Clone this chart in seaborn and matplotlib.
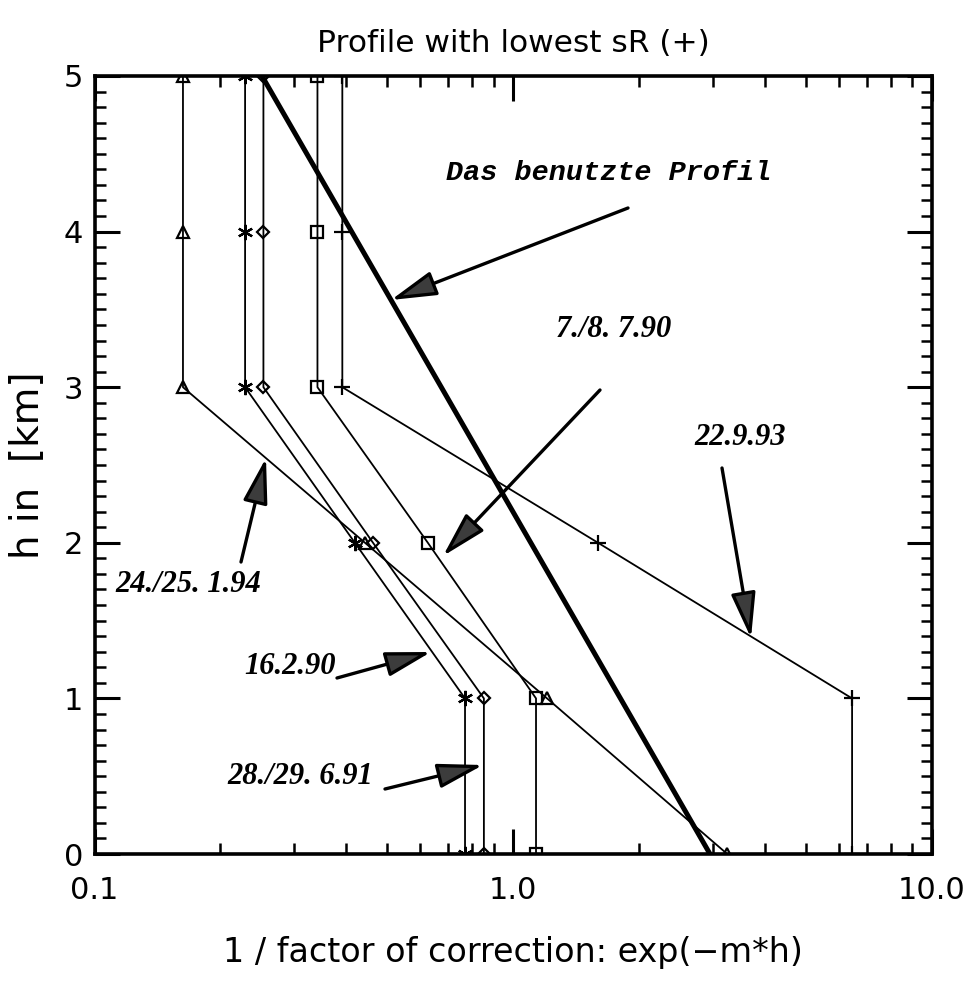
import numpy as np
import pandas as pd
import matplotlib
matplotlib.use("Agg")
import matplotlib.pyplot as plt
from matplotlib.ticker import FixedLocator, LogLocator, MultipleLocator, NullFormatter
import seaborn as sns

# Heights of the profile levels in km
heights = [0, 1, 2, 3, 4, 5]

# 1 / correction factor at each height for the individual soundings
prof_240125_194 = [3.25, 1.206, 0.443, 0.1627, 0.1627, 0.1627]   # triangles
prof_16_2_90 = [0.768, 0.768, 0.419, 0.229, 0.229, 0.229]         # asterisks
prof_2829_6_91 = [0.852, 0.852, 0.463, 0.2533, 0.2533, 0.2533]    # diamonds
prof_78_7_90 = [1.135, 1.135, 0.626, 0.341, 0.341, 0.341]         # squares
prof_22_9_93 = [6.46, 6.46, 1.597, 0.391, 0.391, 0.391]           # plus signs
# profile that is actually used (no symbols, thick line)
prof_used = [2.956, 1.806, 1.103, 0.674, 0.4115, 0.2513]

series_names = ["24./25. 1.94", "16.2.90", "28./29. 6.91", "7./8. 7.90", "22.9.93", "used"]
series_values = [prof_240125_194, prof_16_2_90, prof_2829_6_91, prof_78_7_90, prof_22_9_93, prof_used]

x_tick_values = [0.1, 1.0, 10.0]
x_tick_labels = ["0.1", "1.0", "10.0"]
y_tick_values = [0, 1, 2, 3, 4, 5]

df = pd.DataFrame({
    "series": np.repeat(series_names, len(heights)),
    "h": heights * len(series_names),
    "val": np.concatenate(series_values),
})

sns.set_style("ticks")
plt.rcParams["font.family"] = ["DejaVu Sans"]

W, H = 965, 990
fig = plt.figure(figsize=(W / 100, H / 100), dpi=100)
ax = fig.add_axes([94.5 / W, 136 / H, 837 / W, 778 / H])

asterisk = (6, 2, 0)
styles = {
    "24./25. 1.94": dict(marker="^", ms=8.5),
    "16.2.90": dict(marker=asterisk, ms=11),
    "28./29. 6.91": dict(marker="D", ms=6.5),
    "7./8. 7.90": dict(marker="s", ms=8),
    "22.9.93": dict(marker="+", ms=11),
}

for name in series_names:
    sub = df[df["series"] == name]
    if name == "used":
        sns.lineplot(data=sub, x="val", y="h", sort=False, estimator=None,
                     color="black", lw=3.6, ax=ax, solid_capstyle="butt")
    else:
        st = styles[name]
        sns.lineplot(data=sub, x="val", y="h", sort=False, estimator=None,
                     color="black", lw=1.3, ax=ax, marker=st["marker"],
                     markersize=st["ms"], markerfacecolor="none",
                     markeredgecolor="black", markeredgewidth=1.6)

ax.set_xscale("log")
ax.set_xlim(0.1, 10)
ax.set_ylim(0, 5)
ax.xaxis.set_major_locator(FixedLocator(x_tick_values))
ax.set_xticklabels(x_tick_labels)
ax.xaxis.set_minor_locator(LogLocator(base=10, subs=np.arange(2, 10)))
ax.xaxis.set_minor_formatter(NullFormatter())
ax.yaxis.set_major_locator(FixedLocator(y_tick_values))
ax.set_yticklabels([str(v) for v in y_tick_values])
ax.yaxis.set_minor_locator(MultipleLocator(0.1))

ax.tick_params(which="both", direction="in", top=True, right=True,
               color="black", labelsize=22, labelcolor="black")
ax.tick_params(which="major", length=18, width=2.2)
ax.tick_params(which="minor", length=8, width=1.8)
ax.tick_params(axis="x", which="major", pad=16)
ax.tick_params(axis="y", which="major", pad=8)
for sp in ax.spines.values():
    sp.set_linewidth(2.6)
    sp.set_color("black")

ax.set_xlabel("1 / factor of correction: exp(\u2212m*h)", fontsize=24, labelpad=22, color="black")
ax.set_ylabel("h in  [km]", fontsize=28, labelpad=12, color="black")
ax.set_title("Profile with lowest sR (+)", fontsize=22.5, pad=17, color="black")


def fp(x, y):
    return (x / W, 1 - y / H)


label_font = dict(family=["Liberation Serif", "DejaVu Serif"], style="italic",
                  weight="bold", fontsize=22, color="black")

fig.text(*fp(614, 330), "7./8. 7.90", ha="center", va="center", **label_font)
fig.text(*fp(740, 437), "22.9.93", ha="center", va="center", **label_font)
fig.text(*fp(188, 585), "24./25. 1.94", ha="center", va="center", **label_font)
fig.text(*fp(290, 666), "16.2.90", ha="center", va="center", **label_font)
fig.text(*fp(300, 777), "28./29. 6.91", ha="center", va="center", **label_font)
fig.text(*fp(609, 173), "Das benutzte Profil", ha="center", va="center",
         family=["Liberation Mono", "DejaVu Sans Mono"], style="italic",
         weight="bold", fontsize=20.5, color="black")

arrows = [
    ((628, 208), (391, 300)),
    ((600, 390), (443, 556)),
    ((722, 468), (751, 638)),
    ((241, 562), (266, 458)),
    ((337, 678), (431, 652)),
    ((385, 789), (483, 765)),
]
for tail, tip in arrows:
    ax.annotate("", xy=fp(*tip), xycoords="figure fraction",
                xytext=fp(*tail), textcoords="figure fraction",
                arrowprops=dict(arrowstyle="-|>,head_length=1.4,head_width=0.38",
                                mutation_scale=20, lw=2.4, fc="#3c3c3c",
                                ec="black", shrinkA=0, shrinkB=0))

fig.savefig("out.png", dpi=100, facecolor="white")
